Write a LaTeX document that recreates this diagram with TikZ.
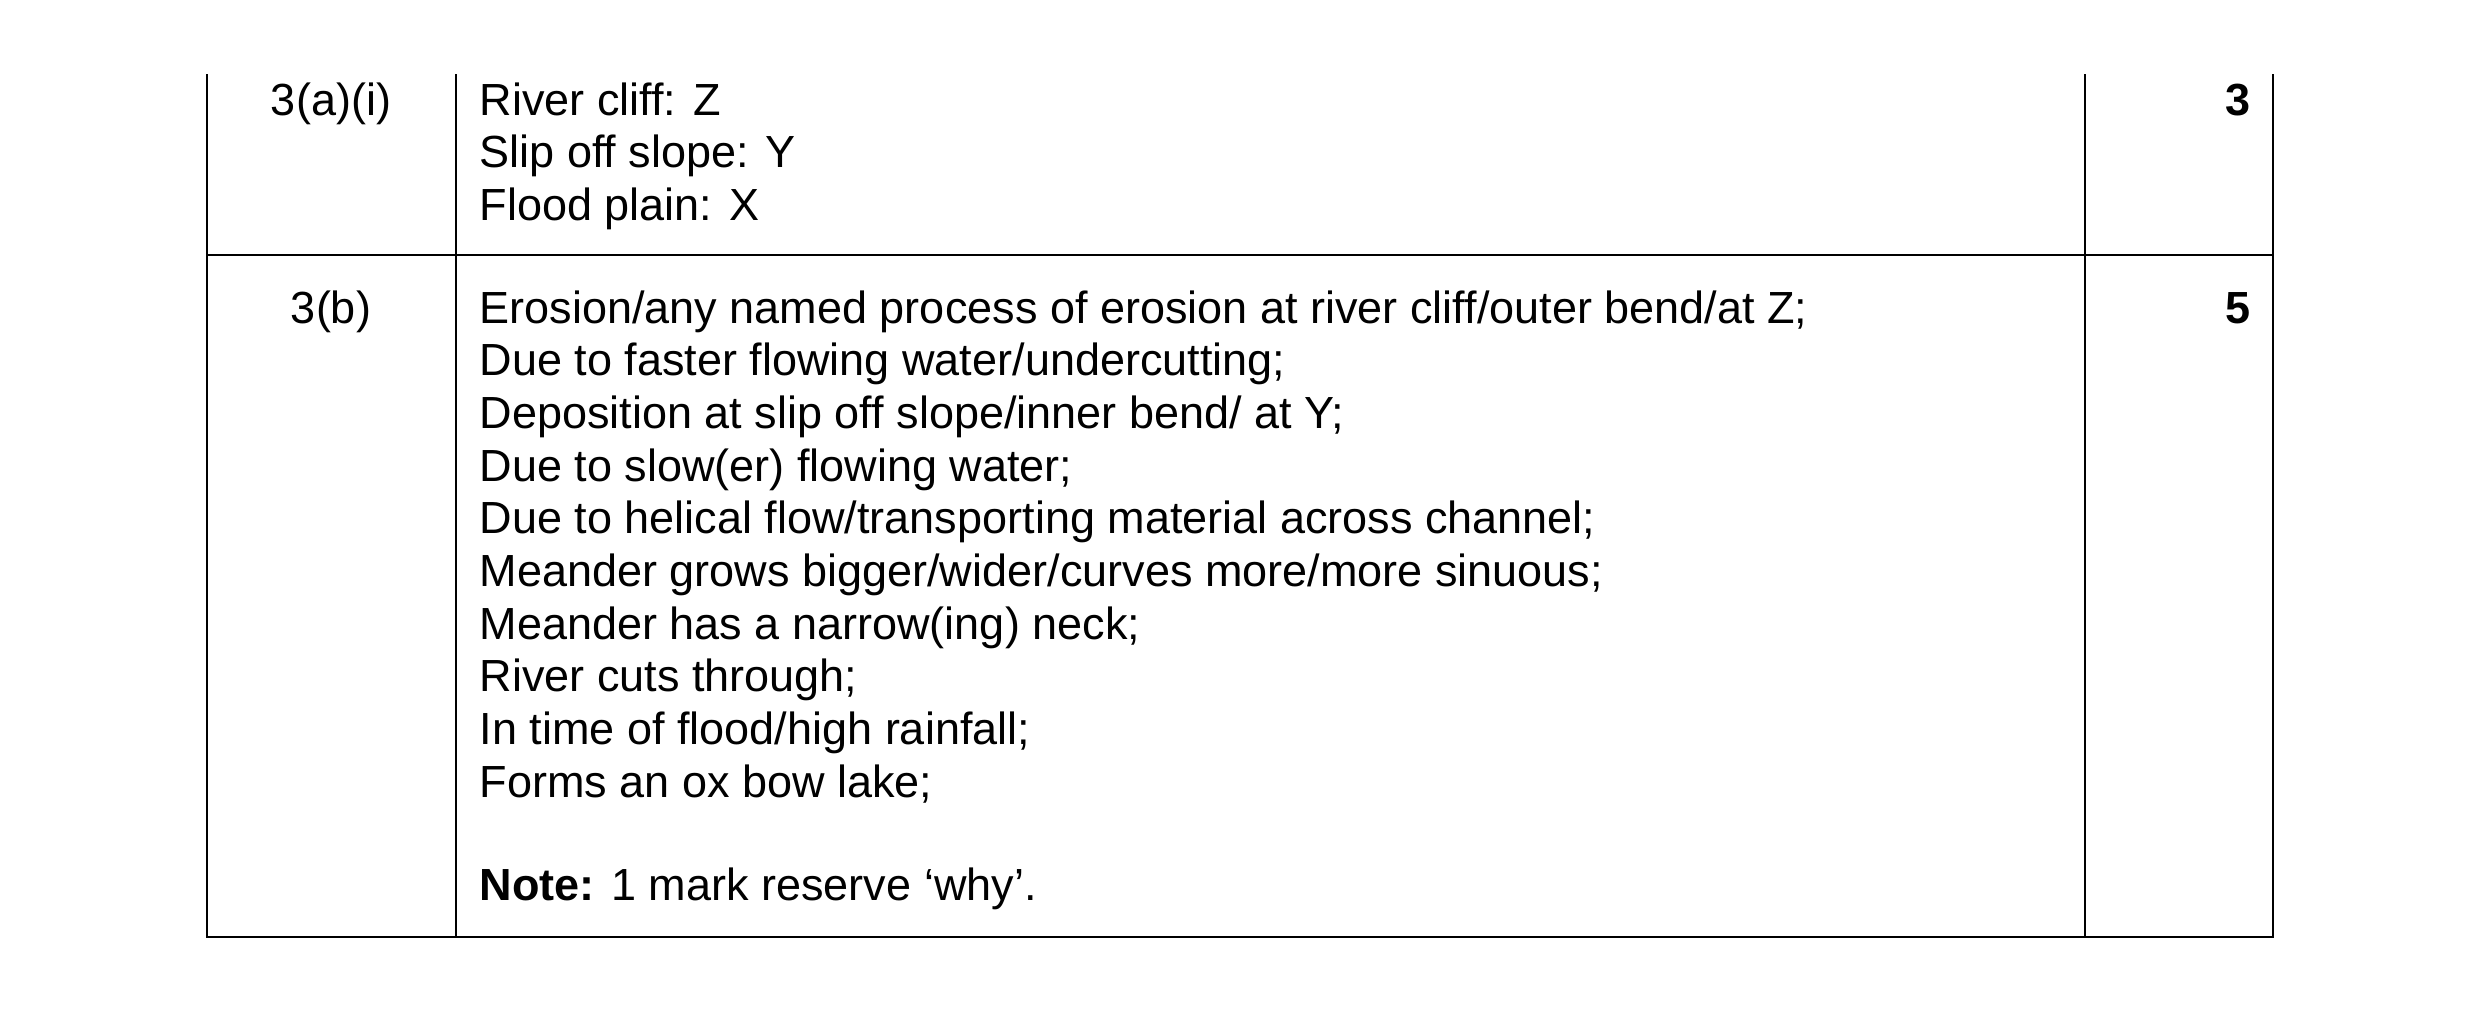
\documentclass[tikz,border=0pt]{standalone}
\usepackage{fontspec}
\setmainfont{Liberation Sans}
\begin{document}
\begin{tikzpicture}[x=0.01cm,y=-0.01cm,
  txt/.style={anchor=base west,inner sep=0pt,font=\fontsize{12.8}{15}\selectfont},
  num/.style={anchor=base,inner sep=0pt,font=\fontsize{12.8}{15}\selectfont},
  marks/.style={anchor=base east,inner sep=0pt,font=\fontsize{12.8}{15}\selectfont\bfseries}]
  \useasboundingbox (0,0) rectangle (2481,1015);
  %table lines
  \draw (207,74) -- (207,937) -- (2273,937) -- (2273,74);
  \draw (456,74) -- (456,937);
  \draw (2085,74) -- (2085,937);
  \draw (207,255) -- (2273,255);
  %first row
  \node[num] (q1) at (331,115) {3(a)(i)};
  \node[marks] (m1) at (2251,115) {3};
  \foreach \t [count=\i from 0] in {River cliff: Z,Slip off slope: Y,Flood plain: X}
    \node[txt] (a\i) at (479,115+52.7*\i) {\t};
  %second row
  \node[num] (q2) at (331,323) {3(b)};
  \node[marks] (m2) at (2251,323) {5};
  \foreach \t [count=\i from 0] in {Erosion/any named process of erosion at river cliff/outer bend/at Z;,
    Due to faster flowing water/undercutting;,
    Deposition at slip off slope/inner bend/ at Y;,
    Due to slow(er) flowing water;,
    Due to helical flow/transporting material across channel;,
    Meander grows bigger/wider/curves more/more sinuous;,
    Meander has a narrow(ing) neck;,
    River cuts through;,
    In time of flood/high rainfall;,
    Forms an ox bow lake;}
    \node[txt] (b\i) at (479,323+52.7*\i) {\t};
  \node[txt] (note) at (479,900) {\textbf{Note:} 1 mark reserve ‘why’.};
\end{tikzpicture}
\end{document}
